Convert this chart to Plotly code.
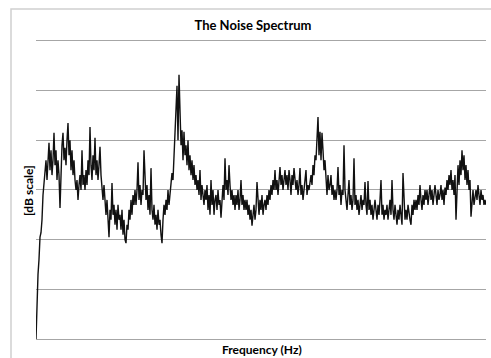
import numpy as np
import plotly.graph_objects as go

title_text = "The Noise Spectrum"
x_title = "Frequency (Hz)"
y_title = "[dB scale]"

# Spectrum level in dB, one value per frequency bin
level_db = [
    -60, -52, -47, -44, -39.5, -38.6, -36, -31, -29, -27.5,
    -24, -28, -23, -20.5, -26, -22, -27, -24, -18.5, -25,
    -22, -28, -24, -27, -33.6, -25, -21, -18.5, -24, -21.5,
    -25, -20, -16.5, -23, -20, -26, -22, -27, -24, -28,
    -30, -28, -32, -29, -27, -30, -22, -29, -27, -30,
    -26, -29, -24, -27, -17.3, -25, -28, -23, -26, -19.5,
    -27, -24, -28, -25, -21.3, -27, -30, -32, -29, -33,
    -35, -32, -37, -39.5, -34, -36, -28.6, -35, -33, -37,
    -34, -38, -33, -36, -35, -38, -34, -39, -36, -40,
    -40.7, -37, -38, -34, -36, -32, -35, -31, -33, -30,
    -33, -30, -24.4, -32, -29, -33, -30, -31, -22, -30,
    -32, -29, -34, -31, -35, -25.6, -34, -36, -33, -37,
    -35, -38, -34, -37, -36, -39, -40.7, -36, -33, -35,
    -32, -34, -30, -33, -31, -29, -26.6, -28, -24, -20,
    -16, -9, -20, -6.8, -14, -21, -18, -24, -18.3, -23,
    -21, -25, -20, -26, -23, -27, -24, -28, -25, -29,
    -27, -30, -28, -31, -26, -32, -29, -31, -33, -30,
    -32, -29, -34, -31, -35, -28, -33, -30, -35, -32,
    -31, -34, -30, -33, -32, -35.6, -31, -29, -32, -23.6,
    -30, -28, -31, -25, -29, -32, -30, -33, -31, -34,
    -31, -33, -30, -34, -32, -28, -33, -31, -34, -32,
    -34, -32, -35, -33, -36, -34, -37.2, -35, -33, -36,
    -34, -28.4, -33, -35, -32, -34, -31, -35, -33, -32,
    -34, -31, -33, -30, -32, -29, -31, -28, -30, -26,
    -30, -28, -31, -27, -25.4, -29, -27, -30, -28, -26,
    -29, -27, -30, -26, -28, -31, -27, -29, -25.6, -28,
    -30, -28, -31, -29, -25.6, -31, -29, -32, -30, -28,
    -26, -31, -29, -30, -28, -27, -29, -25, -27, -23,
    -24, -20, -15.3, -23, -18.3, -24, -18.5, -22, -26, -24,
    -28, -31, -27, -30, -29, -27, -31, -29, -32, -30,
    -32, -30, -25.4, -31, -29, -33, -30, -31, -21, -30,
    -32, -34, -31, -28, -33, -31, -34, -32, -23.6, -33,
    -31, -34, -32, -35, -33, -31, -34, -32, -33, -28.4,
    -33, -35, -28.2, -34, -32, -35, -33, -36, -34, -32,
    -34, -36, -33, -35, -32, -28, -35, -33, -36, -34,
    -35, -33, -36, -34, -32, -35, -28, -34, -36, -33,
    -35, -37, -34, -36, -33, -35, -37, -26.6, -34, -36,
    -34, -36, -33, -35, -36, -37, -33, -35, -32, -34,
    -32, -34, -31, -33, -29, -32, -34, -31, -33, -30,
    -32, -30, -33, -31, -29, -32, -30, -33, -31, -29,
    -31, -33, -30, -32, -31, -29, -32, -30, -33, -29.5,
    -31, -28, -30, -27, -29, -26, -30, -28, -31, -27,
    -36, -28, -25, -29, -24, -27, -22, -26, -23, -28,
    -25, -29, -26, -30, -28, -35.4, -32, -30, -33, -31,
    -30, -32, -29, -31, -33, -30, -32, -31, -33, -32, -33,
]

freq_bin = np.arange(len(level_db))

y_range = [-60, 0.6]
y_grid_step = 10

fig = go.Figure()
fig.add_trace(go.Scatter(
    x=freq_bin, y=level_db, mode="lines",
    line=dict(color="#111111", width=1.4),
    showlegend=False, hoverinfo="skip",
))

W, H = 491, 358
L, R, T, B = 36, 5, 38, 19
pw, ph = W - L - R, H - T - B

def px_x(p):
    return (p - L) / pw

def px_y(p):
    return (H - B - p) / ph

fig.update_layout(
    width=W, height=H,
    margin=dict(l=L, r=R, t=T, b=B),
    paper_bgcolor="white", plot_bgcolor="white",
    font=dict(family="Lato, Open Sans, sans-serif", color="#000000"),
    title=dict(text="<b>" + title_text + "</b>", font=dict(size=13, color="#000"),
               xref="container", yref="container", x=253 / W, y=1 - 25 / H,
               xanchor="center", yanchor="middle"),
    xaxis=dict(range=[0, len(level_db) - 1], showgrid=False, zeroline=False,
               showticklabels=False, ticks="", showline=True,
               linecolor="#a6a6a6", linewidth=1.3),
    yaxis=dict(range=y_range, dtick=y_grid_step, tick0=-60, showgrid=True,
               gridcolor="#a6a6a6", gridwidth=1.3, zeroline=False,
               showticklabels=False, ticks="", showline=False),
    shapes=[dict(type="rect", xref="paper", yref="paper",
                 x0=px_x(11), x1=px_x(W + 5), y0=px_y(H + 5), y1=px_y(9),
                 line=dict(color="#d0d0d0", width=1.5), layer="below")],
    annotations=[
        dict(text="<b>" + x_title + "</b>", xref="paper", yref="paper",
             x=px_x(262), y=px_y(349), showarrow=False,
             xanchor="center", yanchor="middle", font=dict(size=12)),
        dict(text="<b>" + y_title + "</b>", xref="paper", yref="paper",
             x=px_x(28), y=px_y(191), showarrow=False, textangle=-90,
             xanchor="center", yanchor="middle", font=dict(size=12)),
    ],
)

fig.write_html("out.html", config={"displayModeBar": False},
               post_script="document.body.style.margin='0px';")
